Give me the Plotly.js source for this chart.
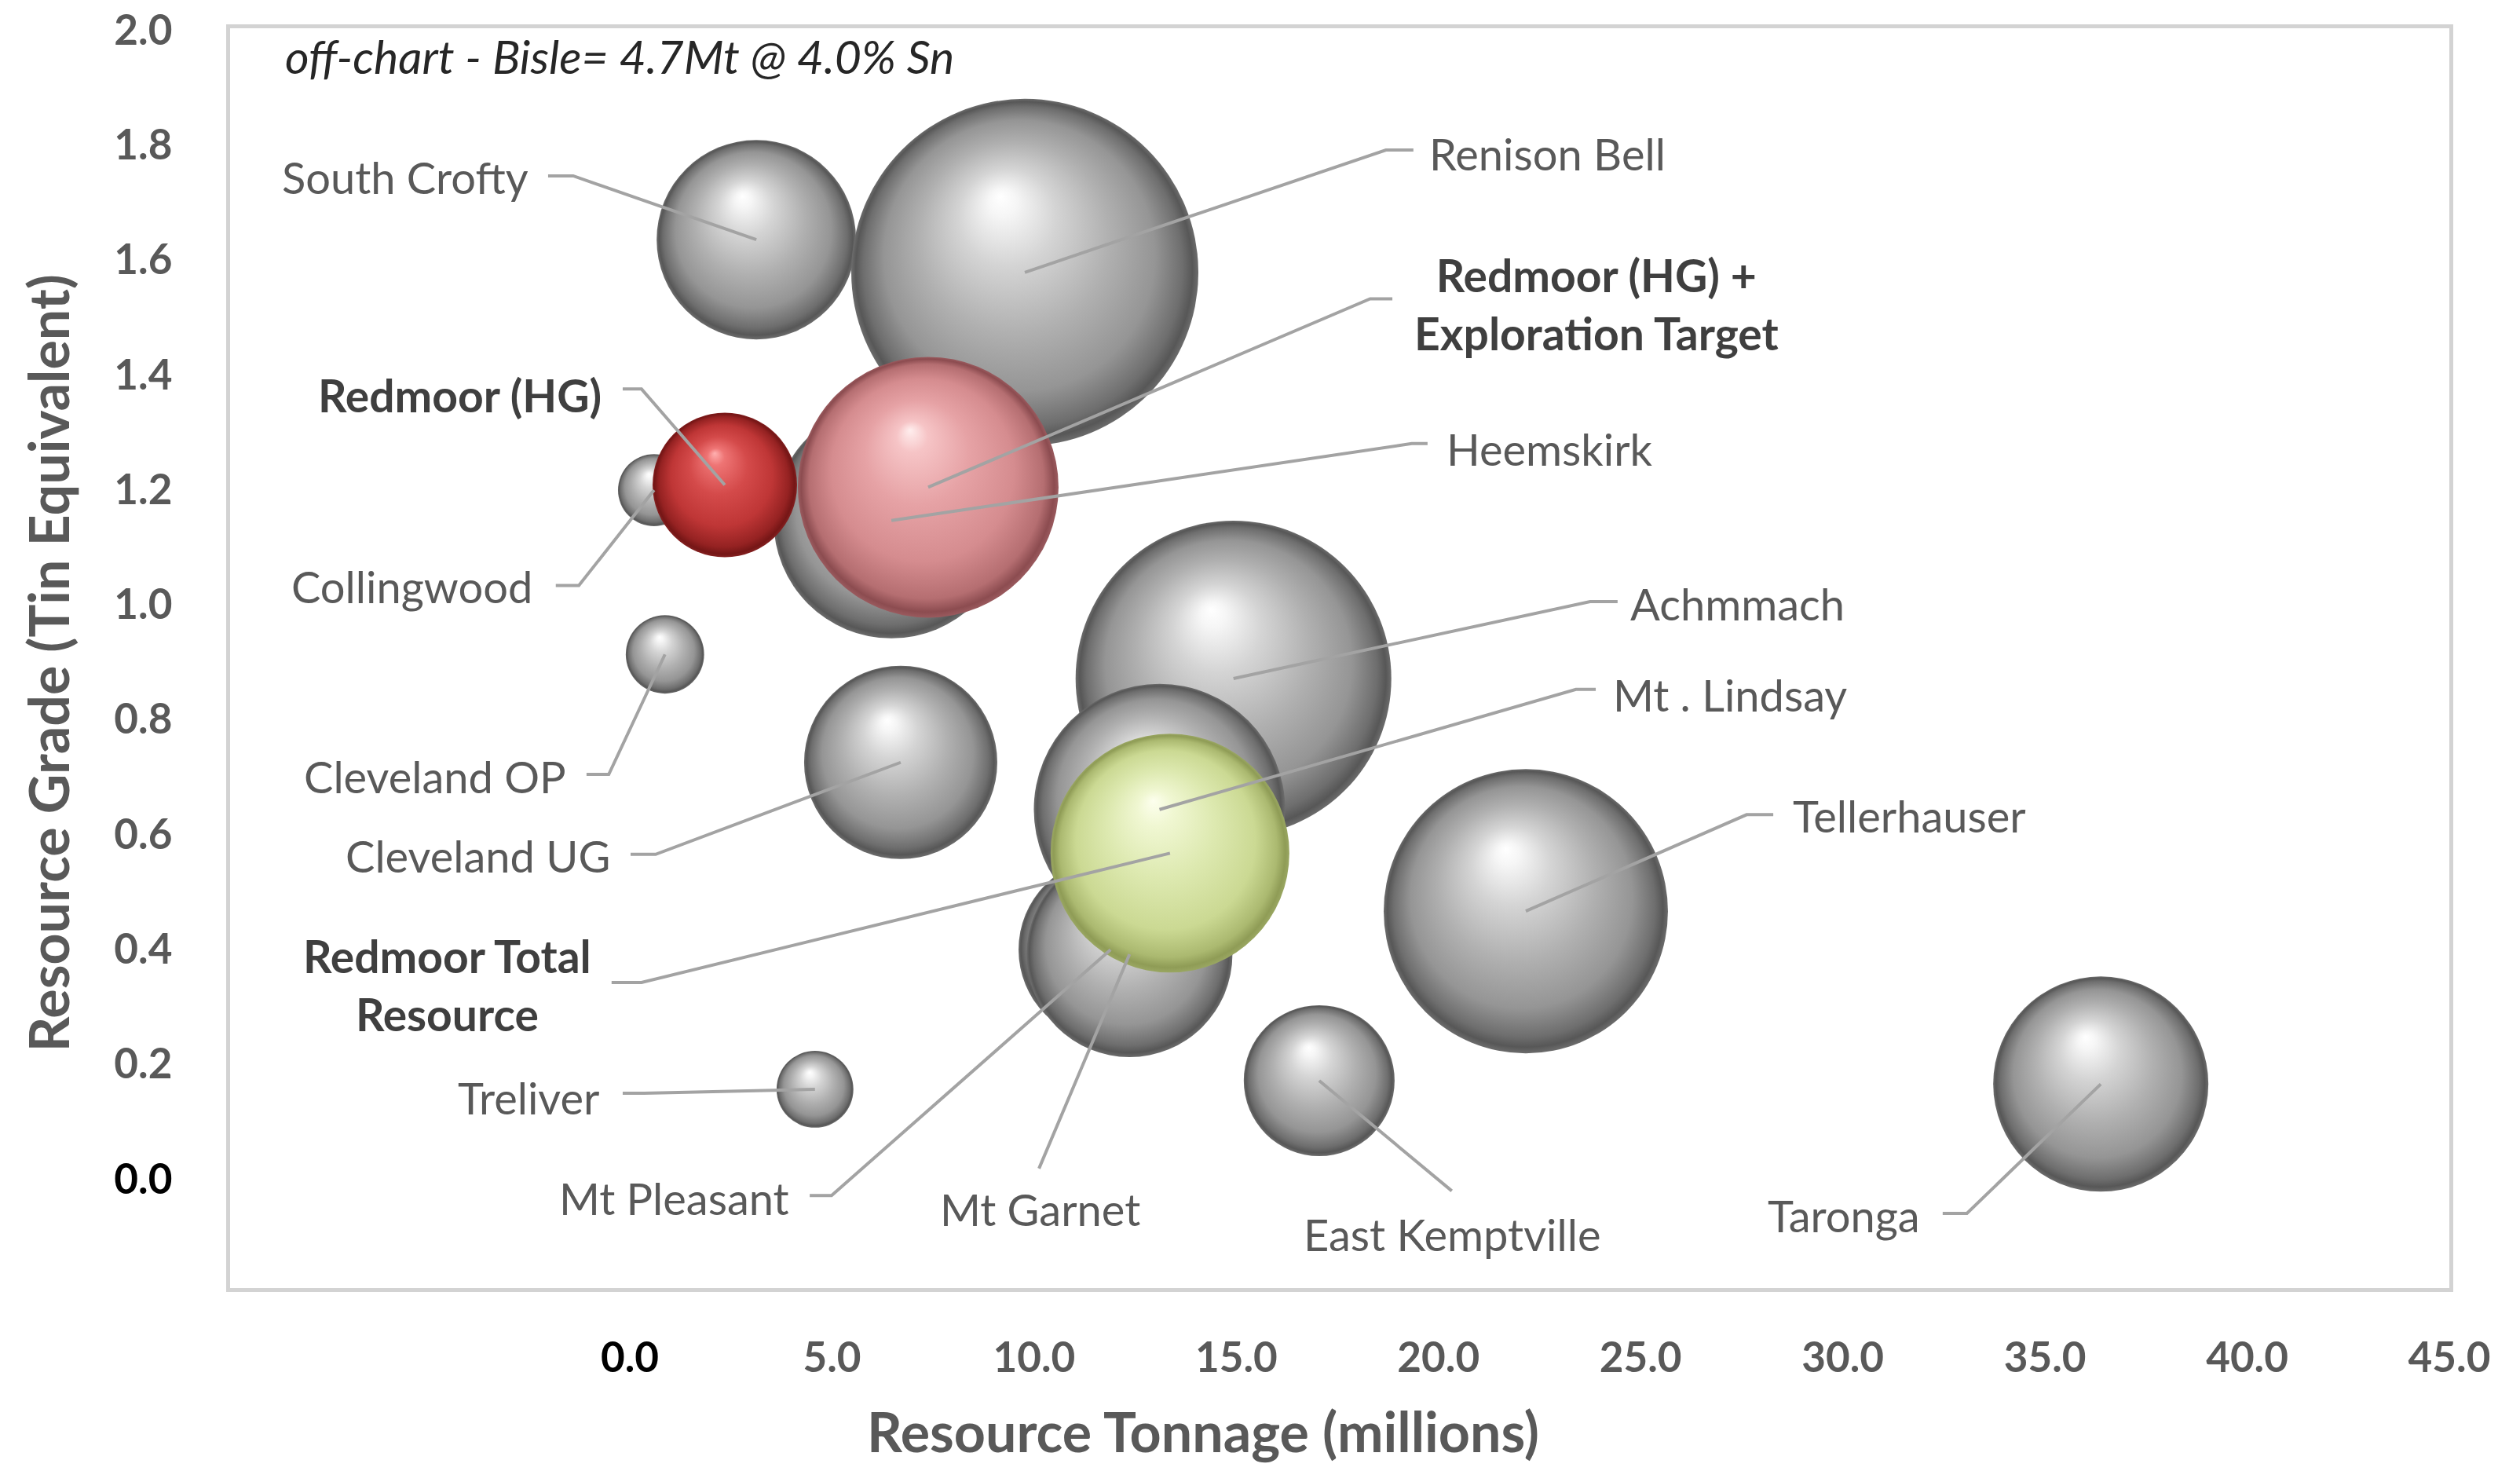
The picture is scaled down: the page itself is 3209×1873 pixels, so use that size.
<!DOCTYPE html>
<html>
<head>
<meta charset="utf-8">
<script src="https://cdn.plot.ly/plotly-3.0.1.min.js"></script>
<style>html,body{margin:0;padding:0;background:#fff;}#chart{width:3209px;height:1873px;}</style>
</head>
<body>
<div id="chart"></div>
<script>
// ---------- DATA ----------
// Comparable tin projects (grey bubbles)
const peerNames   = ["South Crofty","Renison Bell","Heemskirk","Collingwood","Cleveland OP","Cleveland UG","Achmmach","Mt Lindsay","Mt Pleasant","Mt Garnet","Treliver","East Kemptville","Tellerhauser","Taronga"];
const peerTonnage = [3.13, 9.77, 6.47, 0.60, 0.87, 6.70, 14.93, 13.10, 11.89, 12.36, 4.58, 17.05, 22.16, 36.38];   // Mt
const peerGrade   = [1.635, 1.578, 1.146, 1.199, 0.913, 0.725, 0.871, 0.643, 0.399, 0.391, 0.156, 0.171, 0.466, 0.165]; // % Sn eq
const peerContained = [50.5, 153, 70.5, 6.6, 7.8, 47.4, 126.6, 80.2, 43.0, 53.8, 7.5, 28.9, 102.6, 58.8];          // bubble size

// Redmoor (coloured bubbles)
const redmoorNames     = ["Redmoor (HG)", "Redmoor (HG) + Exploration Target", "Redmoor Total Resource"];
const redmoorTonnage   = [2.35, 7.38, 13.36];
const redmoorGrade     = [1.208, 1.204, 0.567];
const redmoorContained = [26.5, 86.3, 72.4];

// Axis ticks
const xTickVals = [0, 5, 10, 15, 20, 25, 30, 35, 40, 45];
const xTickText = ["0.0","5.0","10.0","15.0","20.0","25.0","30.0","35.0","40.0","45.0"];
const yTickVals = [0, 0.2, 0.4, 0.6, 0.8, 1.0, 1.2, 1.4, 1.6, 1.8, 2.0];
const yTickText = ["0.0","0.2","0.4","0.6","0.8","1.0","1.2","1.4","1.6","1.8","2.0"];

const chartNote = "off-chart - Bisle= 4.7Mt @ 4.0% Sn";
const xTitle = "Resource Tonnage (millions)";
const yTitle = "Resource Grade (Tin Equivalent)";

// ---------- LABEL LAYOUT (positions of callout text + leader elbows, data units) ----------
const labelLayout = [
  {name:"South Crofty", text:"South Crofty", bold:false, tx:-2.47, ty:1.744, anchor:"right",  sx:-2.02, sy:1.746, ex:-1.40},
  {name:"Renison Bell", text:"Renison Bell", bold:false, tx:19.73, ty:1.785, anchor:"left",   sx:19.38, sy:1.791, ex:18.70},
  {name:"Redmoor (HG) + Exploration Target", text:"Redmoor (HG) +<br>Exploration Target", bold:true, tx:23.91, ty:1.523, anchor:"center", sx:18.86, sy:1.532, ex:18.31},
  {name:"Redmoor (HG)", text:"Redmoor (HG)", bold:true, tx:-0.66, ty:1.364, anchor:"right",  sx:-0.175, sy:1.375, ex:0.29},
  {name:"Heemskirk", text:"Heemskirk", bold:false, tx:20.16, ty:1.271, anchor:"left", sx:19.73, sy:1.280, ex:19.34},
  {name:"Collingwood", text:"Collingwood", bold:false, tx:-2.37, ty:1.031, anchor:"right", sx:-1.83, sy:1.033, ex:-1.26},
  {name:"Achmmach", text:"Achmmach", bold:false, tx:24.70, ty:1.001, anchor:"left", sx:24.43, sy:1.005, ex:23.75},
  {name:"Mt Lindsay", text:"Mt . Lindsay", bold:false, tx:24.28, ty:0.843, anchor:"left", sx:23.89, sy:0.852, ex:23.40},
  {name:"Cleveland OP", text:"Cleveland OP", bold:false, tx:-1.53, ty:0.701, anchor:"right", sx:-1.07, sy:0.704, ex:-0.52},
  {name:"Cleveland UG", text:"Cleveland UG", bold:false, tx:-0.45, ty:0.563, anchor:"right", sx:0.02, sy:0.565, ex:0.64},
  {name:"Redmoor Total Resource", text:"Redmoor Total<br>Resource", bold:true, tx:-4.51, ty:0.338, anchor:"center", sx:-0.45, sy:0.342, ex:0.29},
  {name:"Tellerhauser", text:"Tellerhauser", bold:false, tx:28.72, ty:0.633, anchor:"left", sx:28.28, sy:0.634, ex:27.62},
  {name:"Treliver", text:"Treliver", bold:false, tx:-0.72, ty:0.141, anchor:"right", sx:-0.175, sy:0.149, ex:0.35},
  {name:"Mt Pleasant", text:"Mt Pleasant", bold:false, tx:3.98, ty:-0.033, anchor:"right", sx:4.45, sy:-0.029, ex:4.99},
  {name:"Mt Garnet", text:"Mt Garnet", bold:false, tx:10.14, ty:-0.052, anchor:"center", sx:10.12, sy:0.018, ex:10.12},
  {name:"East Kemptville", text:"East Kemptville", bold:false, tx:20.35, ty:-0.096, anchor:"center", sx:20.33, sy:-0.021, ex:20.33},
  {name:"Taronga", text:"Taronga", bold:false, tx:31.95, ty:-0.064, anchor:"right", sx:32.47, sy:-0.060, ex:33.07}
];

// ---------- STYLE ----------
const FONT = "Lato, 'Open Sans', sans-serif";
const GREY  = "rgb(150, 150, 150)";
const RED   = "rgb(178, 40, 40)";
const PINK  = "rgb(214, 128, 132)";
const GREEN = "rgb(196, 210, 140)";
const sphereStops = {};
sphereStops[GREY.replace(/\s/g,'')]  = [[0,'#ffffff'],[0.08,'#f6f6f6'],[0.28,'#d4d4d4'],[0.55,'#b0b0b0'],[0.78,'#959595'],[0.92,'#6e6e6e'],[0.97,'#575757'],[1,'#6c6c6c']];
sphereStops[RED.replace(/\s/g,'')]   = [[0,'#ffb0b0'],[0.12,'#ee7474'],[0.4,'#d44a4a'],[0.7,'#bf3636'],[0.9,'#952222'],[0.97,'#751616'],[1,'#842020']];
sphereStops[PINK.replace(/\s/g,'')]  = [[0,'#ffeeee'],[0.12,'#f6c4c6'],[0.4,'#e6a2a5'],[0.7,'#d58c8f'],[0.9,'#b56e71'],[0.97,'#8c4c50'],[1,'#9a5a5e']];
sphereStops[GREEN.replace(/\s/g,'')] = [[0,'#fdffee'],[0.15,'#f0f7d2'],[0.45,'#dde9b0'],[0.75,'#cbd993'],[0.91,'#abb970'],[0.97,'#8f9c56'],[1,'#9aa762']];

const maxDiameterPx = 442;
const sizeRef = 2 * Math.max(...peerContained, ...redmoorContained) / (maxDiameterPx * maxDiameterPx);

const traces = [
  {
    type: "scatter", mode: "markers", name: "Peers",
    x: peerTonnage, y: peerGrade, text: peerNames,
    marker: {size: peerContained, sizemode: "area", sizeref: sizeRef, color: GREY, opacity: 1,
             line: {width: 0}, gradient: {type: "radial", color: "rgb(255, 255, 255)"}},
    hoverinfo: "text", cliponaxis: false
  },
  {
    type: "scatter", mode: "markers", name: "Redmoor",
    x: redmoorTonnage, y: redmoorGrade, text: redmoorNames,
    marker: {size: redmoorContained, sizemode: "area", sizeref: sizeRef, color: [RED, PINK, GREEN], opacity: 1,
             line: {width: 0}, gradient: {type: "radial", color: "rgb(255, 255, 255)"}},
    hoverinfo: "text", cliponaxis: false
  }
];

// lookup of bubble centres by name
const centres = {};
peerNames.forEach((n,i)=>{centres[n]=[peerTonnage[i], peerGrade[i]];});
redmoorNames.forEach((n,i)=>{centres[n]=[redmoorTonnage[i], redmoorGrade[i]];});

const shapes = labelLayout.map(l => {
  const c = centres[l.name];
  return {type:"path", xref:"x", yref:"y", layer:"above",
          path:`M ${l.sx},${l.sy} L ${l.ex},${l.sy} L ${c[0]},${c[1]}`,
          line:{color:"#a3a3a3", width:4}};
});

const annotations = labelLayout.map(l => ({
  xref:"x", yref:"y", x:l.tx, y:l.ty, xanchor:l.anchor, yanchor:"middle",
  text: l.bold ? "<b>"+l.text+"</b>" : l.text, showarrow:false, align:"center",
  font:{family:FONT, size: l.bold ? 57 : 56, color: l.bold ? "#3f3f3f" : "#595959"}
}));
annotations.push({xref:"paper", yref:"paper", x:0.024, y:0.978, xanchor:"left", yanchor:"middle",
  text:"<i>"+chartNote+"</i>", showarrow:false, font:{family:FONT, size:59, color:"#262626"}});
annotations.push({xref:"paper", yref:"paper", x:0.4384, y:-0.1135, xanchor:"center", yanchor:"middle",
  text:"<b>"+xTitle+"</b>", showarrow:false, font:{family:FONT, size:70, color:"#595959"}});
annotations.push({xref:"paper", yref:"paper", x:-0.0821, y:0.496, xanchor:"center", yanchor:"middle", textangle:-90,
  text:"<b>"+yTitle+"</b>", showarrow:false, font:{family:FONT, size:70, color:"#595959"}});

const zeroTick = t => t === "0.0" ? '<span style="color:#000000">'+t+'</span>' : t;

const layout = {
  width: 3209, height: 1873,
  margin: {l: 293, r: 90, t: 36, b: 233},
  paper_bgcolor: "#ffffff", plot_bgcolor: "#ffffff",
  showlegend: false,
  xaxis: {range: [-9.885, 45.0], tickvals: xTickVals, ticktext: xTickText.map(zeroTick),
          showgrid: false, zeroline: false, showline: true, mirror: true, linecolor: "#d3d3d3", linewidth: 5,
          ticks: "outside", ticklen: 38, tickcolor: "rgba(0,0,0,0)",
          tickfont: {family: FONT, size: 53, color: "#595959", weight: "bold"}},
  yaxis: {range: [-0.190, 2.003], tickvals: yTickVals, ticktext: yTickText.map(zeroTick),
          showgrid: false, zeroline: false, showline: true, mirror: true, linecolor: "#d3d3d3", linewidth: 5,
          ticks: "outside", ticklen: 58, tickcolor: "rgba(0,0,0,0)",
          tickfont: {family: FONT, size: 53, color: "#595959", weight: "bold"}},
  shapes: shapes,
  annotations: annotations
};

function shadeSpheres(gd){
  gd.querySelectorAll('radialGradient, radialgradient').forEach(g => {
    const stops = Array.from(g.querySelectorAll('stop'));
    let key = null;
    stops.forEach(s => {
      const c = (s.getAttribute('stop-color') || s.style.stopColor || '').replace(/\s/g,'');
      if (sphereStops[c]) key = c;
    });
    if (!key) return;
    g.setAttribute('cx','0.5'); g.setAttribute('cy','0.5'); g.setAttribute('r','0.5');
    g.setAttribute('fx','0.43'); g.setAttribute('fy','0.28');
    stops.forEach(s => s.remove());
    sphereStops[key].forEach(([o,c]) => {
      const s = document.createElementNS('http://www.w3.org/2000/svg','stop');
      s.setAttribute('offset', o); s.setAttribute('stop-color', c);
      g.appendChild(s);
    });
  });
}

Plotly.newPlot("chart", traces, layout, {staticPlot: true, displayModeBar: false})
  .then(gd => shadeSpheres(gd));
</script>
</body>
</html>
